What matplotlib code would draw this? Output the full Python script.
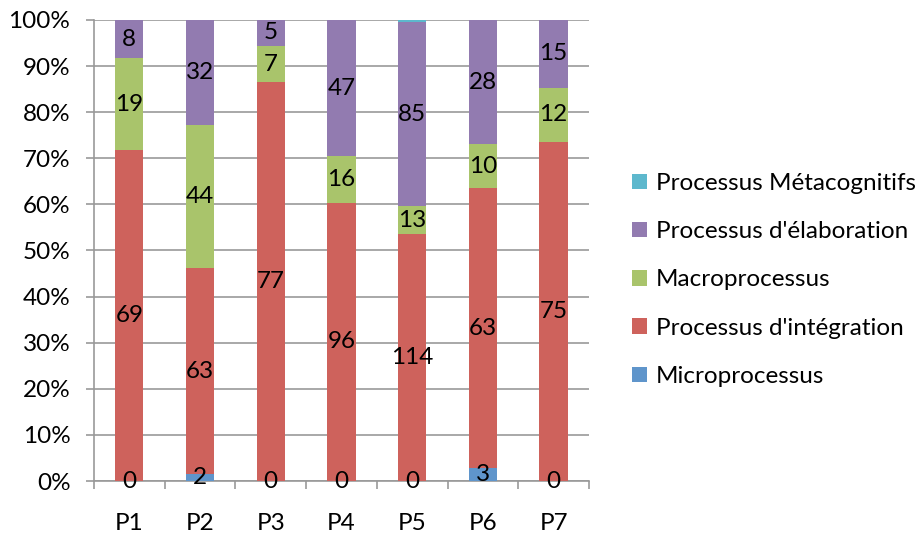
import numpy as np
import matplotlib
matplotlib.use("Agg")
import matplotlib.pyplot as plt
from matplotlib.ticker import PercentFormatter

plt.rcParams['font.family'] = ['Lato', 'DejaVu Sans']

categories = ['P1', 'P2', 'P3', 'P4', 'P5', 'P6', 'P7']
micro = [0, 2, 0, 0, 0, 3, 0]
integration = [69, 63, 77, 96, 114, 63, 75]
macro = [19, 44, 7, 16, 13, 10, 12]
elaboration = [8, 32, 5, 47, 85, 28, 15]
meta = [0, 0, 0, 0, 1, 0, 0]

series = [
    ('Microprocessus', micro, '#5F95CB'),
    ("Processus d'intégration", integration, '#CE625C'),
    ('Macroprocessus', macro, '#A9C46B'),
    ("Processus d'élaboration", elaboration, '#927BB0'),
    ('Processus Métacognitifs', meta, '#5DB8CD'),
]

totals = np.sum([s[1] for s in series], axis=0)
x = np.arange(len(categories))
fs = 17.5

fig = plt.figure(figsize=(9.16, 5.33), dpi=100)
ax = fig.add_axes([94 / 916, 52 / 533, 495 / 916, 461 / 533])

bottom = np.zeros(len(categories))
handles = []
for name, vals, color in series:
    pct = np.array(vals) / totals * 100
    bars = ax.bar(x, pct, 0.4, bottom=bottom, color=color, label=name, zorder=3)
    handles.append(bars)
    if name != 'Processus Métacognitifs':
        for xi, b, p, v in zip(x, bottom, pct, vals):
            ax.text(xi, b + p / 2, str(v), ha='center', va='center',
                    fontsize=fs, color='black', zorder=4)
    bottom += pct

ax.set_xlim(-0.5, len(categories) - 0.5)
ax.set_ylim(0, 100)
ax.set_yticks(np.arange(0, 101, 10))
ax.yaxis.set_major_formatter(PercentFormatter(decimals=0))
ax.set_xticks(x)
ax.set_xticklabels(categories)
ax.set_xticks(np.arange(-0.5, len(categories)), minor=True)
ax.tick_params(axis='x', which='major', length=0, pad=23, labelsize=fs)
ax.tick_params(axis='x', which='minor', length=6, color='#999999', width=1.2)
ax.tick_params(axis='y', length=6, color='#999999', width=1.2, labelsize=fs, pad=11)
ax.yaxis.grid(True, color='#999999', linewidth=1.2, zorder=0)
for side in ['top', 'right']:
    ax.spines[side].set_visible(False)
for side in ['left', 'bottom']:
    ax.spines[side].set_color('#999999')
    ax.spines[side].set_linewidth(1.2)

leg = fig.legend(handles[::-1], [s[0] for s in series][::-1],
                 loc='center left', bbox_to_anchor=(632 / 916, 1 - 280 / 533),
                 frameon=False, fontsize=fs, handlelength=0.6, handleheight=0.6,
                 handletextpad=0.37, labelspacing=1.12, borderpad=0,
                 borderaxespad=0)

fig.savefig('out.png', dpi=100)
